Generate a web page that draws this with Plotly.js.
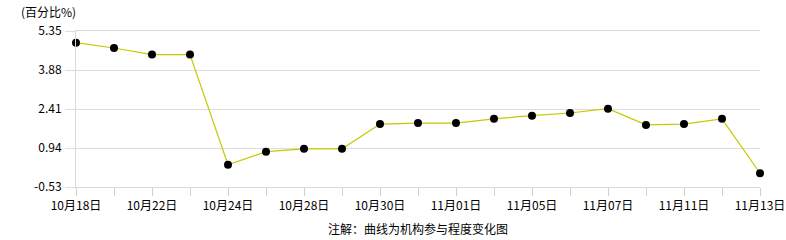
<!DOCTYPE html>
<html><head><meta charset="utf-8">
<script src="https://cdn.plot.ly/plotly-3.0.1.min.js"></script>
<style>html,body{margin:0;padding:0;background:#fff}#c{width:786px;height:240px}</style>
</head><body><div id="c"></div>
<script>
const dates = ["10月18日","10月21日","10月22日","10月23日","10月24日","10月25日","10月28日","10月29日","10月30日","10月31日","11月01日","11月04日","11月05日","11月06日","11月07日","11月08日","11月11日","11月12日","11月13日"];
const values = [4.91,4.71,4.46,4.46,0.31,0.80,0.91,0.91,1.84,1.88,1.88,2.04,2.16,2.26,2.42,1.81,1.84,2.04,-0.01];
const yTicks = [-0.53,0.94,2.41,3.88,5.35];
const tickLabels = dates.map((d,i)=> i%2===0 ? d : "");
const F = "SimSun, 'Noto Sans CJK SC', sans-serif";
Plotly.newPlot("c",[{
  x: dates, y: values, type:"scatter", mode:"lines+markers",
  line:{color:"#c8c800", width:1.2},
  marker:{color:"#000", size:8},
  cliponaxis:false, hoverinfo:"skip"
}],{
  width:786,height:240,
  margin:{l:76,r:26,t:31,b:53},
  paper_bgcolor:"#fff", plot_bgcolor:"#fff",
  showlegend:false,
  font:{family:F,size:12,color:"#000"},
  xaxis:{type:"category", range:[0,18], tickvals:dates, ticktext:tickLabels,
    ticks:"outside", ticklen:8, tickcolor:"#d0d0d0", showgrid:false,
    showline:true, linecolor:"#d8d8d8", mirror:true, zeroline:false,
    tickfont:{family:F,size:12,color:"#000"}},
  yaxis:{range:[-0.53,5.35], tickvals:yTicks, ticktext:yTicks.map(v=>v.toFixed(2)),
    showgrid:true, gridcolor:"#dcdcdc", showline:true, linecolor:"#d8d8d8", zeroline:false,
    ticks:"outside", ticklen:10, tickcolor:"#dcdcdc", ticklabelstandoff:1,
    tickfont:{family:F,size:12,color:"#000"}},
  annotations:[
    {text:"(百分比%)", xref:"paper", yref:"paper", x:0, y:1.0, yshift:20, xshift:-57, xanchor:"left", yanchor:"middle", showarrow:false, font:{family:F,size:12}},
    {text:"注解：曲线为机构参与程度变化图", xref:"paper", yref:"paper", x:0.5, y:0, yshift:-41, xanchor:"center", yanchor:"middle", showarrow:false, font:{family:F,size:12}}
  ]
},{displayModeBar:false, staticPlot:true});
</script></body></html>
